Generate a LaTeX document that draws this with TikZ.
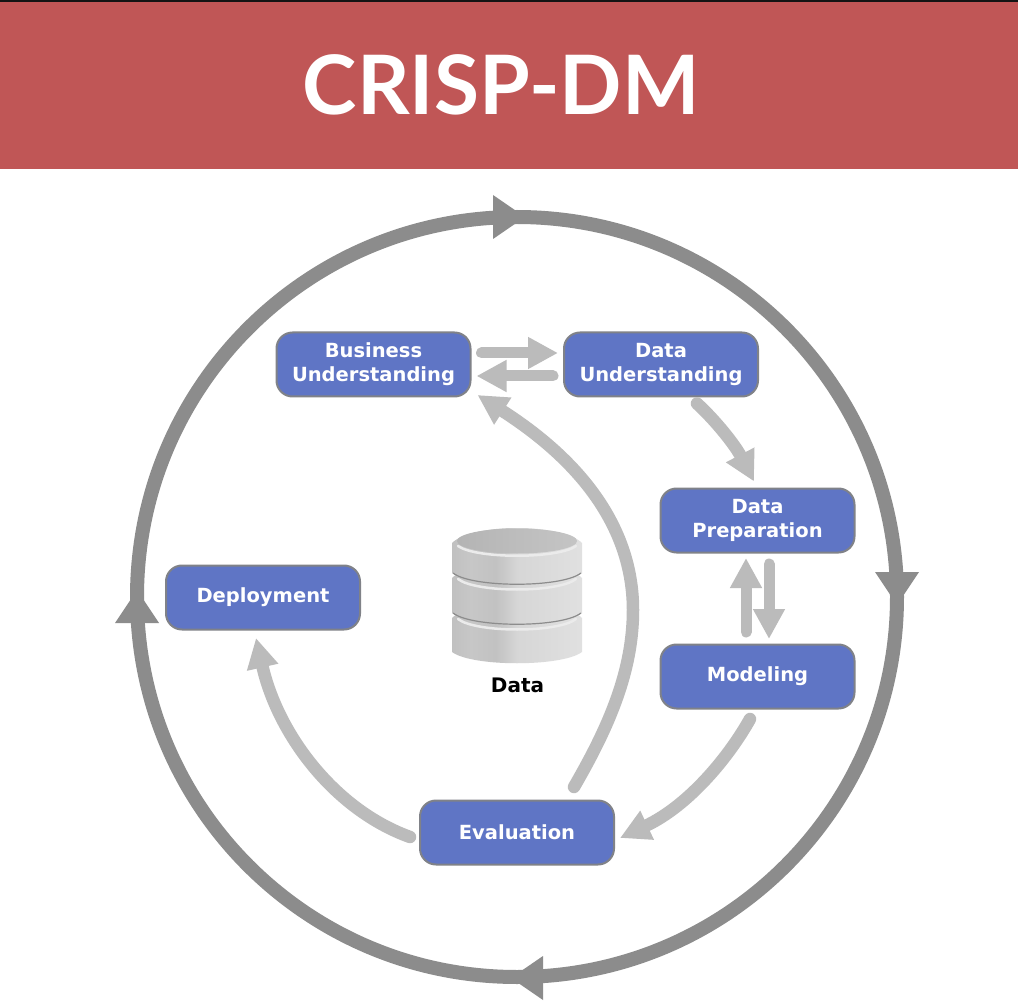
\documentclass[tikz,border=0pt]{standalone}
\usepackage{fontspec}
\setmainfont{DejaVu Sans}
\newfontfamily\titlefont{Lato}
\usetikzlibrary{arrows.meta,calc}
\definecolor{bannerred}{HTML}{C05656}
\definecolor{boxblue}{HTML}{5F75C5}
\definecolor{boxedge}{HTML}{808288}
\definecolor{ringgrey}{HTML}{8C8C8C}
\definecolor{flowgrey}{HTML}{BBBBBB}
\pgfdeclarehorizontalshading{dbshade}{100bp}{
  color(0bp)=(black!30);
  color(12bp)=(black!36);
  color(16bp)=(black!28);
  color(32bp)=(black!22);
  color(42bp)=(black!24);
  color(50bp)=(black!16);
  color(75bp)=(black!12);
  color(78bp)=(black!18);
  color(94bp)=(black!18);
  color(100bp)=(black!26)}
\pgfdeclarehorizontalshading{dbtop}{100bp}{
  color(0bp)=(black!33);
  color(50bp)=(black!26);
  color(100bp)=(black!20)}
\tikzset{
  stage/.style={draw=boxedge,line width=2pt,fill=boxblue,rounded corners=16pt,
    minimum width=194pt,minimum height=64pt,inner sep=0pt,align=center,
    text=white,font=\fontsize{19.5}{24}\selectfont\bfseries},
  flow/.style={draw=flowgrey,line width=11pt,line cap=round,
    -{Triangle[length=30pt,width=30pt]}},
  curved flow/.style={flow,line width=12.5pt},
  ring/.style={draw=ringgrey,line width=14pt},
  ringhead/.style={fill=ringgrey},
  rim/.style={draw=black!8,line width=2.5pt,line cap=round},
  rimdark/.style={draw=black!45,line width=1.2pt}
}
\newcommand{\dbdisk}[2]{%
  \shade[shading=dbshade] (452,#1) -- (452,#2) .. controls (472,#2+15) and (562,#2+15) .. (582,#2)
     -- (582,#1) .. controls (562,#1-20) and (472,#1-20) .. (452,#1) -- cycle;
}
\newcommand{\dbneck}[2]{%
  \shade[shading=dbshade] (456,#1) rectangle (578,#2);
}
\newcommand{\dbrim}[1]{%
  \draw[rimdark] (453,#1) .. controls (472,#1+15) and (562,#1+15) .. (581,#1);
  \draw[rim] (458,#1+6) .. controls (476,#1+20) and (558,#1+20) .. (576,#1+6);
}
\begin{document}
\begin{tikzpicture}[x=1pt,y=-1pt]
\useasboundingbox (0,0) rectangle (1018,1008);
\fill[white] (0,0) rectangle (1018,1008);
\fill[bannerred] (0,0) rectangle (1018,169.5);
\fill[black!92] (0,0) rectangle (1018,2);
\node[inner sep=0pt,text=white] (title) at (501,85)
  {\titlefont\fontsize{82}{82}\selectfont\bfseries CRISP-DM};

% outer cycle
\node[circle,ring,minimum size=760pt,inner sep=0pt] (cycle) at (517,597) {};
\fill[ringhead] (493,195) -- (525,217) -- (493,239) -- cycle;
\fill[ringhead] (875,572) -- (897,605) -- (919,572) -- cycle;
\fill[ringhead] (543,956) -- (511,978) -- (543,1000) -- cycle;
\fill[ringhead] (115,623) -- (137,590) -- (159,623) -- cycle;

% stages
\node[stage] (bu) at (373.5,364.5) {Business\\Understanding};
\node[stage] (du) at (661,364.5) {Data\\Understanding};
\node[stage] (dp) at (757.5,520.5) {Data\\Preparation};
\node[stage] (mo) at (757.5,676.5) {Modeling};
\node[stage] (ev) at (517,832.5) {Evaluation};
\node[stage] (de) at (263,597.5) {Deployment};

% flows
\draw[flow] ([xshift=10pt,yshift=11.5pt]bu.east) -- ([xshift=-5pt,yshift=11.5pt]du.west);
\draw[flow] ([xshift=-10pt,yshift=-11.5pt]du.west) -- ([xshift=5pt,yshift=-11.5pt]bu.east);
\draw[curved flow] ([xshift=36pt,yshift=-6pt]du.south) .. controls (716,421) and (735,445) .. ([xshift=-3.5pt,yshift=6pt]dp.north);
\draw[flow] ([xshift=11.5pt,yshift=-10.5pt]dp.south) -- ([xshift=11.5pt,yshift=4.5pt]mo.north);
\draw[flow] ([xshift=-11.5pt,yshift=11.5pt]mo.north) -- ([xshift=-11.5pt,yshift=-4.5pt]dp.south);
\draw[curved flow] ([xshift=-7.5pt,yshift=-9.5pt]mo.south) .. controls (730,755) and (690,805) .. ([xshift=5pt,yshift=-5.5pt]ev.east);
\draw[curved flow] ([xshift=-9pt,yshift=-4.5pt]ev.west) .. controls (335,810) and (278,735) .. ([xshift=-7pt,yshift=-7.5pt]de.south);
\draw[curved flow] ([xshift=57pt,yshift=12.5pt]ev.north) .. controls (610,725) and (633,670) .. (633,610)
   .. controls (633,540) and (595,470) .. ([xshift=6pt,yshift=2.5pt]bu.south east);

% database
\dbdisk{618}{652}
\dbneck{610}{622}
\dbdisk{578}{613}
\dbrim{613}
\dbneck{570}{582}
\dbdisk{543}{573}
\dbrim{573}
\shade[shading=dbtop] (517,541) ellipse [x radius=60,y radius=12.5];
\draw[rim] (458,546) .. controls (476,559) and (558,559) .. (576,546);
\node[inner sep=0pt,text=black,font=\fontsize{20}{24}\selectfont\bfseries] (dblabel) at (517.5,685) {Data};
\end{tikzpicture}
\end{document}
